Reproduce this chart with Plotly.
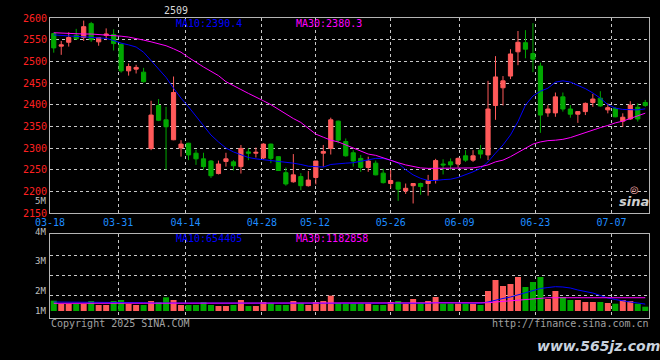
import plotly.graph_objects as go

# ---------------- data ----------------
open_ = [2564, 2535, 2544, 2560, 2555, 2587, 2545, 2560, 2562, 2539,
         2478, 2482, 2475, 2299, 2398, 2365, 2319, 2300, 2311, 2288,
         2275, 2270, 2241, 2269, 2268, 2257, 2291, 2288, 2277, 2309,
         2280, 2243, 2222, 2234, 2213, 2232, 2288, 2299, 2362, 2315,
         2289, 2276, 2255, 2265, 2242, 2218, 2221, 2201, 2213, 2218,
         2218, 2226, 2263, 2268, 2263, 2282, 2272, 2295, 2284, 2398,
         2439, 2466, 2522, 2543, 2518, 2489, 2381, 2381, 2418, 2390,
         2378, 2384, 2405, 2415, 2388, 2391, 2362, 2367, 2394, 2405]
high_ = [2566, 2547, 2567, 2575, 2594, 2591, 2556, 2576, 2574, 2542,
         2495, 2492, 2485, 2409, 2413, 2395, 2465, 2318, 2312, 2296,
         2289, 2272, 2271, 2289, 2272, 2307, 2299, 2301, 2311, 2310,
         2281, 2255, 2286, 2242, 2247, 2270, 2307, 2370, 2363, 2322,
         2295, 2284, 2280, 2271, 2252, 2249, 2222, 2218, 2219, 2220,
         2238, 2275, 2274, 2276, 2278, 2295, 2295, 2307, 2455, 2512,
         2466, 2528, 2570, 2572, 2588, 2497, 2399, 2428, 2428, 2399,
         2385, 2405, 2425, 2431, 2403, 2394, 2380, 2408, 2403, 2411]
low_ = [2520, 2515, 2534, 2550, 2547, 2545, 2536, 2549, 2525, 2474,
        2467, 2472, 2451, 2295, 2362, 2250, 2318, 2280, 2272, 2261,
        2250, 2231, 2239, 2257, 2248, 2241, 2272, 2278, 2274, 2265,
        2247, 2213, 2220, 2203, 2211, 2216, 2257, 2285, 2311, 2280,
        2257, 2245, 2245, 2237, 2218, 2207, 2178, 2194, 2172, 2192,
        2190, 2218, 2239, 2249, 2255, 2268, 2268, 2276, 2272, 2365,
        2398, 2459, 2491, 2507, 2475, 2335, 2372, 2372, 2384, 2370,
        2358, 2376, 2395, 2395, 2380, 2371, 2349, 2365, 2361, 2395]
close_ = [2531, 2538, 2555, 2552, 2580, 2550, 2555, 2563, 2541, 2478,
          2488, 2486, 2453, 2376, 2364, 2349, 2428, 2309, 2284, 2275,
          2257, 2236, 2263, 2275, 2259, 2299, 2288, 2290, 2309, 2276,
          2248, 2217, 2238, 2213, 2226, 2270, 2292, 2365, 2318, 2282,
          2270, 2255, 2270, 2238, 2220, 2225, 2205, 2207, 2218, 2211,
          2225, 2271, 2261, 2261, 2276, 2272, 2282, 2286, 2390, 2464,
          2455, 2517, 2544, 2528, 2505, 2376, 2390, 2418, 2390, 2378,
          2384, 2403, 2413, 2397, 2393, 2372, 2371, 2399, 2367, 2398]
ma10 = [2561, 2560, 2559, 2557, 2556, 2555, 2554, 2553, 2548, 2542,
        2538, 2533, 2521, 2501, 2482, 2463, 2438, 2415, 2395, 2374,
        2353, 2330, 2314, 2300, 2291, 2284, 2278, 2275, 2273, 2272,
        2270, 2268, 2265, 2262, 2258, 2257, 2256, 2262, 2264, 2265,
        2266, 2269, 2273, 2276, 2276, 2272, 2265, 2250, 2238, 2230,
        2225, 2225, 2227, 2228, 2232, 2238, 2245, 2253, 2268, 2288,
        2307, 2330, 2361, 2399, 2420, 2431, 2438, 2452, 2455, 2452,
        2445, 2437, 2427, 2415, 2400, 2392, 2389, 2388, 2388, 2390.4]
ma30 = [2566, 2565, 2564, 2564, 2563, 2563, 2562, 2561, 2559, 2558,
        2556, 2553, 2549, 2545, 2541, 2536, 2529, 2521, 2509, 2497,
        2487, 2477, 2467, 2453, 2443, 2435, 2426, 2418, 2409, 2400,
        2389, 2378, 2368, 2359, 2345, 2332, 2325, 2318, 2314, 2307,
        2299, 2292, 2286, 2283, 2277, 2272, 2266, 2261, 2257, 2254,
        2253, 2253, 2254, 2254, 2254, 2253, 2254, 2257, 2261, 2268,
        2272, 2280, 2290, 2301, 2309, 2314, 2317, 2318, 2320, 2324,
        2330, 2336, 2341, 2347, 2352, 2358, 2362, 2368, 2374, 2380.3]
volume = [980000, 665000, 665000, 665000, 665000, 950000, 570000, 570000, 950000, 1045000,
          665000, 570000, 570000, 950000, 855000, 1300000, 1045000, 570000, 570000, 570000,
          855000, 570000, 475000, 475000, 570000, 1045000, 475000, 475000, 855000, 760000,
          570000, 570000, 950000, 760000, 570000, 855000, 950000, 1455000, 760000, 695000,
          695000, 695000, 695000, 570000, 570000, 855000, 950000, 695000, 1140000, 790000,
          950000, 1330000, 695000, 695000, 695000, 695000, 695000, 570000, 1900000, 2945000,
          2375000, 2565000, 3230000, 2280000, 2755000, 3230000, 1140000, 1900000, 1330000, 1045000,
          1045000, 855000, 855000, 855000, 760000, 695000, 1045000, 950000, 695000, 410000]
vol_ma10 = [855000] * 6 + [790000] * 7 + [760000] * 8 + [695000] * 16 + [730000] * 14 + \
           [790000] * 5 + [730000] * 2 + \
           [855000, 1045000, 1190000, 1330000, 1520000, 1710000, 1900000, 2140000, 2230000, 2310000,
            2280000, 2185000, 1995000, 1850000, 1710000, 1470000, 1235000, 1090000, 950000, 855000,
            760000, 654405]
vol_ma30 = [730000] * 58 + [780000, 855000, 920000, 985000, 1045000, 1110000, 1170000, 1230000] + \
           [1260000] * 14
date_labels = ["03-18", "03-31", "04-14", "04-28", "05-12", "05-26", "06-09", "06-23", "07-07"]
date_pos = [-0.5, 8.6, 17.6, 27.8, 34.9, 45.0, 54.2, 64.3, 74.5]
price_ticks = [2150, 2200, 2250, 2300, 2350, 2400, 2450, 2500, 2550, 2600]
vol_labels = ["5M", "4M", "3M", "2M", "1M"]

# ---------------- styling ----------------
W, H = 660, 360
L, R, T, B = 50, 11, 18, 42
RED = "#ff5a5a"
GREEN = "#00a800"
GRID = "#c8c8c8"
BORDER = "#b4b4b4"
MONO = "DejaVu Sans Mono"

idx = list(range(len(close_)))


def px_x(px):
    return (px - L) / (W - L - R)


def px_y(py):
    return (H - B - py) / (H - T - B)


fig = go.Figure()
fig.add_trace(go.Candlestick(
    x=idx, open=open_, high=high_, low=low_, close=close_,
    increasing=dict(line=dict(color=RED, width=1), fillcolor=RED),
    decreasing=dict(line=dict(color=GREEN, width=1), fillcolor=GREEN),
    whiskerwidth=0, showlegend=False, hoverinfo="skip", xaxis="x", yaxis="y"))
fig.add_trace(go.Scatter(x=idx, y=ma10, mode="lines", line=dict(color="#0000ff", width=1),
                         showlegend=False, hoverinfo="skip", xaxis="x", yaxis="y"))
fig.add_trace(go.Scatter(x=idx, y=ma30, mode="lines", line=dict(color="#ff00ff", width=1),
                         showlegend=False, hoverinfo="skip", xaxis="x", yaxis="y"))

vol_colors = [RED if c >= o else GREEN for o, c in zip(open_, close_)]
fig.add_trace(go.Bar(x=idx, y=volume, marker=dict(color=vol_colors, line=dict(width=0)),
                     showlegend=False, hoverinfo="skip", xaxis="x2", yaxis="y2"))
fig.add_trace(go.Scatter(x=idx, y=vol_ma10, mode="lines", line=dict(color="#0000ff", width=1),
                         showlegend=False, hoverinfo="skip", xaxis="x2", yaxis="y2"))
fig.add_trace(go.Scatter(x=idx, y=vol_ma30, mode="lines", line=dict(color="#ff00ff", width=1),
                         showlegend=False, hoverinfo="skip", xaxis="x2", yaxis="y2"))

vol_per_px = 95000
vol_base_py = 311
price_dom = [px_y(213), 1]
vol_dom = [0, px_y(234.3)]
vol_range = [-(H - B - vol_base_py) * vol_per_px, (vol_base_py - 234.3) * vol_per_px]
vol_grid = [(vol_base_py - py) * vol_per_px for py in (255, 275, 295)]

common_x = dict(range=[-0.5, len(idx) - 0.5], showgrid=True, gridcolor=GRID, griddash="dot",
                gridwidth=1, zeroline=False, showline=True, linecolor=BORDER, linewidth=1,
                mirror=True, ticks="", tickvals=date_pos, fixedrange=True)
fig.update_layout(
    width=W, height=H, margin=dict(l=L, r=R, t=T, b=B),
    paper_bgcolor="black", plot_bgcolor="black",
    boxgap=0.2, bargap=0.2, showlegend=False,
    xaxis=dict(**common_x, domain=[0, 1], anchor="y", ticktext=date_labels,
               tickfont=dict(family=MONO, size=10, color="#1e8cff"),
               rangeslider=dict(visible=False)),
    yaxis=dict(domain=price_dom, range=[2150, 2600], tickvals=price_ticks, ticks="",
               tickfont=dict(family=MONO, size=10, color="#ff2020"),
               showgrid=True, gridcolor=GRID, griddash="dot", zeroline=False,
               showline=True, linecolor=BORDER, mirror=True, anchor="x", fixedrange=True),
    xaxis2=dict(**common_x, domain=[0, 1], anchor="y2", matches="x", showticklabels=False),
    yaxis2=dict(domain=vol_dom, range=vol_range, tickvals=vol_grid, showticklabels=False,
                ticks="", showgrid=True, gridcolor=GRID, griddash="dot", zeroline=False,
                showline=True, linecolor=BORDER, mirror=True, anchor="x2", fixedrange=True),
)

ann = []


def text(s, px, py, color, anchor="left", size=10, family=MONO):
    ann.append(dict(text=s, x=px_x(px), y=px_y(py), xref="paper", yref="paper",
                    xanchor=anchor, yanchor="middle", showarrow=False,
                    font=dict(family=family, size=size, color=color), borderpad=0))


text("2509", 176, 10.5, "#d8d8d8", "center")
text("MA10:2390.4", 174.5, 23.3, "#0000ff")
text("MA30:2380.3", 294.5, 23.3, "#ff00ff")
text("MA10:654405", 174.5, 238, "#0000ff")
text("MA30:1182858", 294.5, 238, "#ff00ff")
for lab, py in zip(vol_labels, [201, 232, 260.7, 290.7, 310.7]):
    text(lab, 46.5, py, "#c0c0c0", "right", 9)
text("Copyright 2025 SINA.COM", 49.5, 323.5, "#a0a0a0")
text("http://finance.sina.com.cn", 649.5, 323.5, "#a0a0a0", "right")
text("◎", 634, 190, "#f0a8a8", "center", 10, "DejaVu Sans")
text("<b><i>sina</i></b>", 634, 201, "#d0d0d0", "center", 13, "DejaVu Sans")
text("<b><i>www.565jz.com</i></b>", 598, 346, "#c8d2de", "center", 14, "DejaVu Sans")
fig.update_layout(annotations=ann)

fig.write_html(
    "out.html",
    config={"displayModeBar": False, "staticPlot": True},
    post_script="document.body.style.margin='0';document.body.style.background='black';"
                "document.body.style.overflow='hidden';",
)
